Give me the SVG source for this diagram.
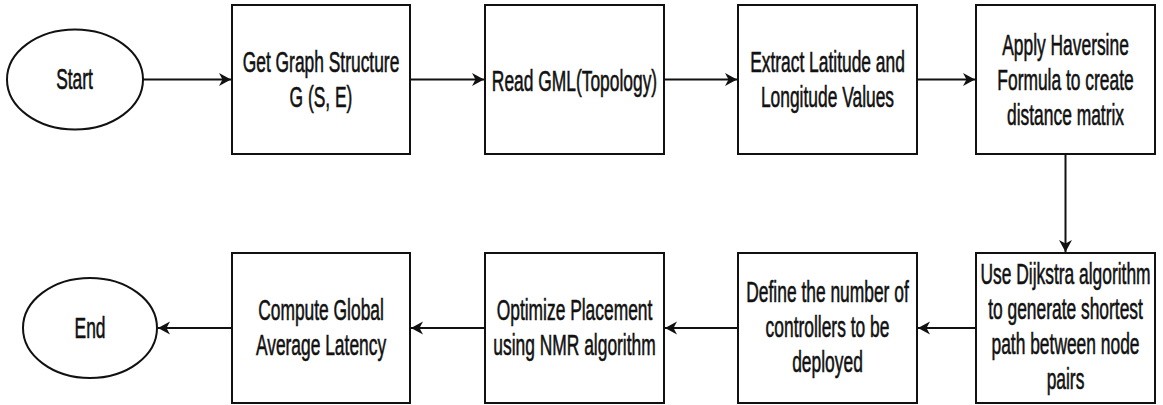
<svg xmlns="http://www.w3.org/2000/svg" width="1163" height="405" viewBox="0 0 1163 405">
  <style>
    .shape { fill: #ffffff; stroke: #111111; stroke-width: 2; }
    .edge { fill: none; stroke: #111111; stroke-width: 2; }
    .lbl { font-family: "Liberation Sans", Arial, sans-serif; font-size: 29px; text-anchor: middle; fill: #111111; stroke: #111111; stroke-width: 0.6; }
  </style>
  <defs>
    <marker id="arrow" viewBox="0 0 14 14" refX="13" refY="7" markerWidth="14" markerHeight="14" markerUnits="userSpaceOnUse" orient="auto">
      <path d="M13,7 L1,0.5 L4.5,7 L1,13.5 Z" fill="#111111"/>
    </marker>
  </defs>
  <rect width="1163" height="405" fill="#ffffff"/>

  <!-- top row, left to right -->
  <g id="start">
    <ellipse class="shape" cx="75" cy="79.5" rx="68" ry="50"/>
    <text class="lbl" transform="translate(74.5,0) scale(0.6,1)"><tspan x="0" y="89">Start</tspan></text>
  </g>
  <g id="get-graph">
    <rect class="shape" x="232" y="5" width="178" height="149"/>
    <text class="lbl" transform="translate(321,0) scale(0.6,1)"><tspan x="0" y="72">Get Graph Structure</tspan><tspan x="0" y="107">G (S, E)</tspan></text>
  </g>
  <g id="read-gml">
    <rect class="shape" x="485" y="5" width="179" height="149"/>
    <text class="lbl" transform="translate(574.5,0) scale(0.6,1)"><tspan x="0" y="91">Read GML(Topology)</tspan></text>
  </g>
  <g id="extract-coords">
    <rect class="shape" x="738" y="5" width="179" height="149"/>
    <text class="lbl" transform="translate(827.5,0) scale(0.6,1)"><tspan x="0" y="72">Extract Latitude and</tspan><tspan x="0" y="107">Longitude Values</tspan></text>
  </g>
  <g id="haversine">
    <rect class="shape" x="976" y="5" width="179" height="149"/>
    <text class="lbl" transform="translate(1065.5,0) scale(0.6,1)"><tspan x="0" y="55">Apply Haversine</tspan><tspan x="0" y="90">Formula to create</tspan><tspan x="0" y="125">distance matrix</tspan></text>
  </g>

  <!-- bottom row, right to left -->
  <g id="dijkstra">
    <rect class="shape" x="976" y="253" width="179" height="150"/>
    <text class="lbl" transform="translate(1065.5,0) scale(0.6,1)"><tspan x="0" y="284">Use Dijkstra algorithm</tspan><tspan x="0" y="319">to generate shortest</tspan><tspan x="0" y="354">path between node</tspan><tspan x="0" y="389">pairs</tspan></text>
  </g>
  <g id="define-controllers">
    <rect class="shape" x="738" y="253" width="179" height="150"/>
    <text class="lbl" transform="translate(827.5,0) scale(0.6,1)"><tspan x="0" y="302">Define the number of</tspan><tspan x="0" y="337">controllers to be</tspan><tspan x="0" y="372">deployed</tspan></text>
  </g>
  <g id="optimize">
    <rect class="shape" x="485" y="253" width="179" height="150"/>
    <text class="lbl" transform="translate(574.5,0) scale(0.6,1)"><tspan x="0" y="320">Optimize Placement</tspan><tspan x="0" y="355">using NMR algorithm</tspan></text>
  </g>
  <g id="latency">
    <rect class="shape" x="232" y="253" width="178" height="150"/>
    <text class="lbl" transform="translate(321,0) scale(0.6,1)"><tspan x="0" y="320">Compute Global</tspan><tspan x="0" y="355">Average Latency</tspan></text>
  </g>
  <g id="end">
    <ellipse class="shape" cx="90" cy="328" rx="67" ry="50"/>
    <text class="lbl" transform="translate(90,0) scale(0.6,1)"><tspan x="0" y="338">End</tspan></text>
  </g>

  <!-- connectors -->
  <g id="connectors">
    <path class="edge" d="M143,79.5 H231" marker-end="url(#arrow)"/>
    <path class="edge" d="M410,79.5 H484" marker-end="url(#arrow)"/>
    <path class="edge" d="M664,79.5 H737" marker-end="url(#arrow)"/>
    <path class="edge" d="M917,79.5 H975" marker-end="url(#arrow)"/>
    <path class="edge" d="M1065.5,154 V252" marker-end="url(#arrow)"/>
    <path class="edge" d="M976,328 H918" marker-end="url(#arrow)"/>
    <path class="edge" d="M738,328 H665" marker-end="url(#arrow)"/>
    <path class="edge" d="M485,328 H411" marker-end="url(#arrow)"/>
    <path class="edge" d="M232,328 H158" marker-end="url(#arrow)"/>
  </g>
</svg>
